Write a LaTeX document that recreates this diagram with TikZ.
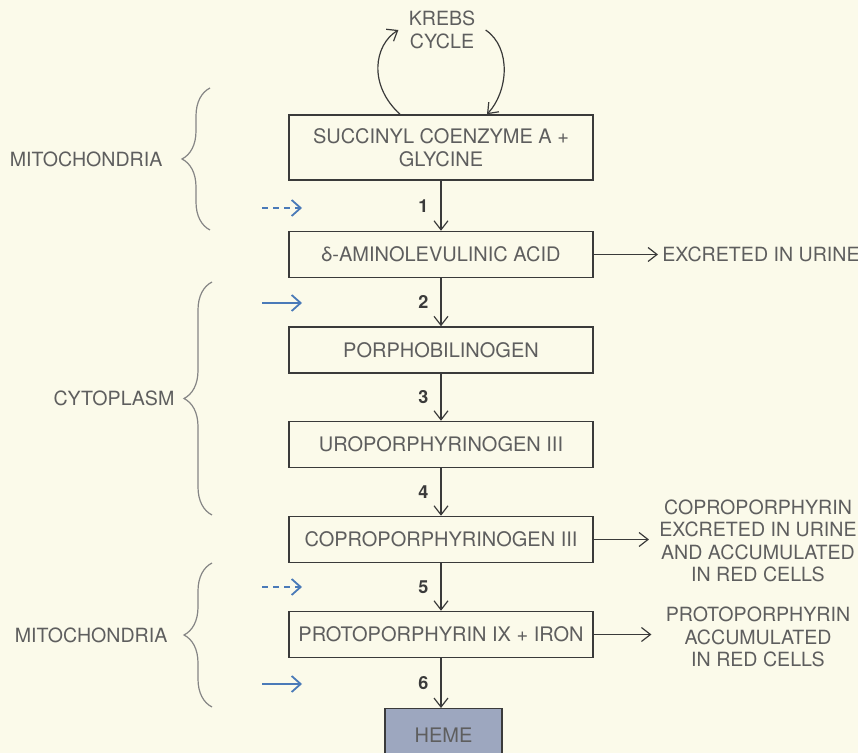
\documentclass[tikz,border=0pt]{standalone}
\usepackage{fontspec}
\setmainfont{TeX Gyre Heros}
\usetikzlibrary{arrows.meta,calc,positioning,decorations.pathreplacing}
\definecolor{Ink}{HTML}{3A3A3A}
\definecolor{Paper}{HTML}{FBFAEA}
\definecolor{Label}{HTML}{5E5E5E}
\definecolor{Sky}{HTML}{4A7AB8}
\definecolor{Slate}{HTML}{9DA7BF}
\definecolor{Bracket}{HTML}{858585}
\tikzset{
  stage/.style={
    draw=Ink, line width=0.75pt, fill=Paper, text=Label,
    minimum width=152pt, minimum height=23pt, align=center,
    font=\fontsize{10}{11.5}\selectfont
  },
  note/.style={
    text=Label, align=center, inner sep=2pt,
    font=\fontsize{9.8}{11.2}\selectfont
  },
  stepno/.style={font=\fontsize{9}{10}\selectfont\bfseries, text=Ink, inner sep=1pt},
  flow/.style={-{Straight Barb[length=4.5pt,width=7pt]}, line width=0.6pt, draw=Ink},
  cue/.style={-{Straight Barb[length=4.5pt,width=8pt]}, line width=0.9pt, draw=Sky},
  region/.style={decorate, decoration={brace, amplitude=14pt}, draw=Bracket, line width=0.6pt}
}

\begin{document}
\begin{tikzpicture}[x=0.5pt,y=-0.5pt]
  \useasboundingbox (0,0) rectangle (858,753);
  \fill[Paper] (0,0) rectangle (858,753);
  \clip (0,0) rectangle (858,753);

  % pathway boxes
  \node[stage,minimum height=32.5pt] (succ) at (441,147.5) {SUCCINYL COENZYME A +\\GLYCINE};
  \node[stage] (ala) at (441,254.5) {δ-AMINOLEVULINIC ACID};
  \node[stage] (pbg) at (441,350) {PORPHOBILINOGEN};
  \node[stage] (uro) at (441,444.5) {UROPORPHYRINOGEN III};
  \node[stage] (copro) at (441,539.5) {COPROPORPHYRINOGEN III};
  \node[stage] (proto) at (441,634.5) {PROTOPORPHYRIN IX + IRON};
  \node[stage,fill=Slate,minimum width=58.5pt,minimum height=26pt,anchor=north] (heme) at (443.5,708) {HEME};

  % numbered steps
  \draw[flow] (succ) -- node[stepno,left=5pt] (s1) {1} (ala);
  \draw[flow] (ala) -- node[stepno,left=5pt] (s2) {2} (pbg);
  \draw[flow] (pbg) -- node[stepno,left=5pt] (s3) {3} (uro);
  \draw[flow] (uro) -- node[stepno,left=5pt] (s4) {4} (copro);
  \draw[flow] (copro) -- node[stepno,left=5pt] (s5) {5} (proto);
  \draw[flow] (proto.south) -- node[stepno,left=5pt] (s6) {6} (proto.south |- heme.north);

  % krebs cycle
  \node[note,inner sep=5pt] (krebs) at (442,30) {KREBS\\CYCLE};
  \draw[flow] ([xshift=-20.5pt]succ.north) .. controls (368,85) and (374,45) .. (krebs.west);
  \draw[flow] (krebs.east) .. controls (512,48) and (508,92) .. ([xshift=23pt]succ.north);

  % blue cues
  \coordinate (c1a) at (262,208);
  \coordinate (c1b) at (302,208);
  \coordinate (c2a) at (262,303);
  \coordinate (c2b) at (302,303);
  \coordinate (c5a) at (262,587);
  \coordinate (c5b) at (302,587);
  \coordinate (c6a) at (262,684);
  \coordinate (c6b) at (302,684);
  \draw[cue,dash pattern=on 3pt off 2.5pt] (c1a) -- (c1b);
  \draw[cue] (c2a) -- (c2b);
  \draw[cue,dash pattern=on 3pt off 2.5pt] (c5a) -- (c5b);
  \draw[cue] (c6a) -- (c6b);

  % side products
  \node[note,anchor=west] (urine) at (658,254) {EXCRETED IN URINE};
  \node[note] (cpout) at (758,541) {COPROPORPHYRIN\\EXCRETED IN URINE\\AND ACCUMULATED\\IN RED CELLS};
  \node[note] (ppout) at (758,637) {PROTOPORPHYRIN\\ACCUMULATED\\IN RED CELLS};
  \draw[flow] (ala.east) -- (ala.east -| urine.west);
  \draw[flow,shorten >=3pt] (copro.east) -- (copro.east -| cpout.west);
  \draw[flow,shorten >=5pt] (proto.east) -- (proto.east -| ppout.west);

  % compartments
  \draw[region] (210,230) -- (210,88) node[note,midway,left=21.5pt] (mito1) {MITOCHONDRIA};
  \draw[region] (212,515) -- (212,282) node[note,midway,left=16.5pt] (cyto) {CYTOPLASM};
  \draw[region] (212,707) -- (212,563) node[note,midway,left=20pt] (mito2) {MITOCHONDRIA};
\end{tikzpicture}
\end{document}
